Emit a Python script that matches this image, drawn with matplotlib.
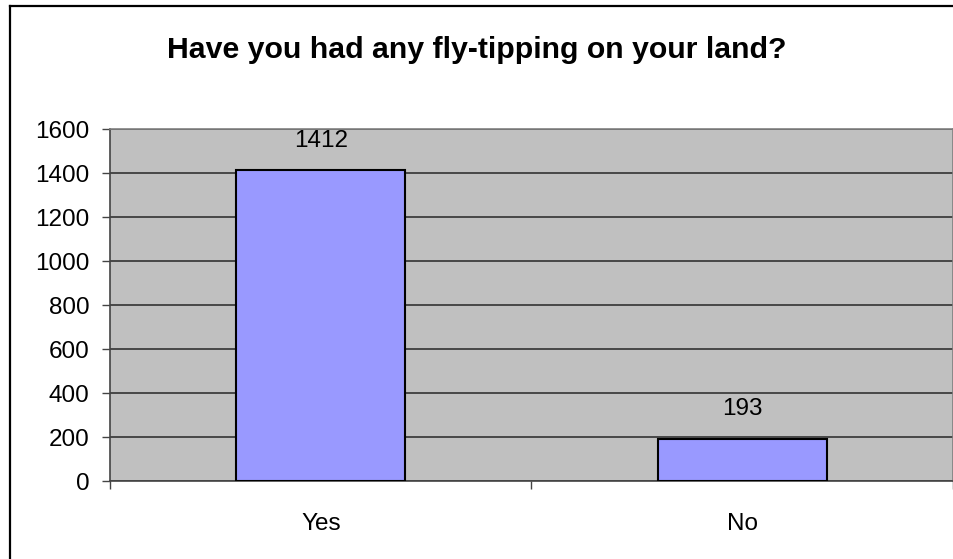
import matplotlib.pyplot as plt
from matplotlib.lines import Line2D

categories = ['Yes', 'No']
counts = [1412, 193]
yticks = [0, 200, 400, 600, 800, 1000, 1200, 1400, 1600]

plt.rcParams['font.family'] = ['Liberation Sans', 'DejaVu Sans']

fig = plt.figure(figsize=(9.54, 5.59), dpi=100)
ax = fig.add_axes([110/954, 78/559, 843/954, 352/559])

ax.set_facecolor('#C0C0C0')
x = list(range(len(categories)))
ax.bar(x, counts, width=0.4, color='#9999FF', edgecolor='black', linewidth=1.5, zorder=3)

for xi, v in zip(x, counts):
    ax.annotate(str(v), (xi, v), xytext=(0, 21), textcoords='offset points',
                ha='center', va='center', fontsize=17.5)

ax.set_xlim(-0.5, 1.5)
ax.set_ylim(0, 1600)
ax.set_yticks(yticks)
ax.yaxis.grid(True, color='#333333', linewidth=1.2, zorder=1)
ax.set_axisbelow(True)

ax.set_xticks(x)
ax.set_xticklabels(categories)
ax.set_xticks([-0.5, 0.5, 1.5], minor=True)
ax.tick_params(axis='x', which='major', length=0, pad=23, labelsize=17.5)
ax.tick_params(axis='x', which='minor', length=6, width=1, color='#444444')
ax.tick_params(axis='y', length=6, width=1, color='#444444', pad=9, labelsize=17.5)

for s in ['left', 'bottom']:
    ax.spines[s].set_color('#444444')
    ax.spines[s].set_linewidth(1.2)
for s in ['top', 'right']:
    ax.spines[s].set_color('#808080')
    ax.spines[s].set_linewidth(1.2)

fig.text(477/954, 1 - 50/559, 'Have you had any fly-tipping on your land?',
         ha='center', va='center', fontsize=21.8, fontweight='bold')

# chart border (only left and top visible in the crop)
fig.add_artist(Line2D([10/954, 10/954], [0, 1 - 6/559], color='black', linewidth=1.6))
fig.add_artist(Line2D([10/954, 1], [1 - 6/559, 1 - 6/559], color='black', linewidth=1.6))

fig.savefig('out.png', dpi=100)
